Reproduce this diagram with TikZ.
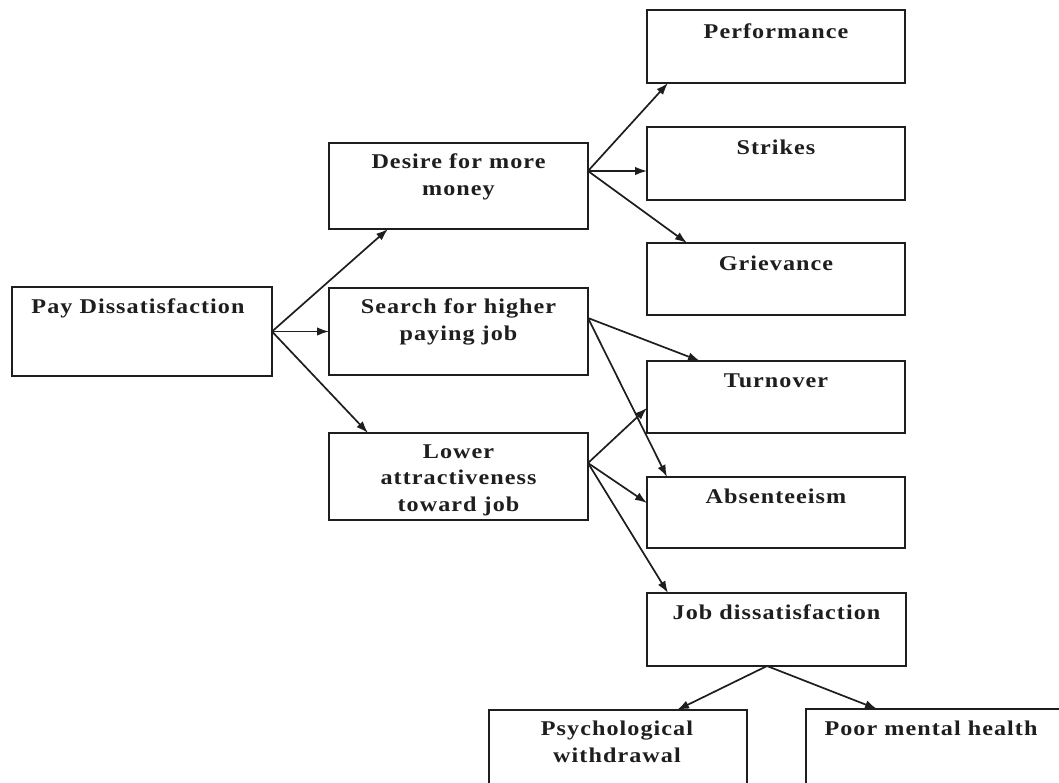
\documentclass[tikz,border=0pt]{standalone}
\usepackage{fontspec}
\newfontfamily\labfont{Liberation Serif}[FakeStretch=1.15,LetterSpace=5]
\usetikzlibrary{arrows.meta}
\definecolor{ink}{HTML}{1E1E1E}
\begin{document}
\begin{tikzpicture}[x=1pt,y=-1pt,
  box/.style={draw=ink,line width=2pt,rectangle,inner sep=0pt,outer sep=0pt,anchor=north west,fill=white},
  lab/.style={anchor=north,inner sep=0pt,outer sep=0pt,align=center,text=ink,
    font=\labfont\bfseries\fontsize{21}{26.5}\selectfont},
  conn/.style={draw=ink,line width=1.7pt,-{Latex[length=12pt,width=8.5pt]}}]
\clip (0,0) rectangle (1059,782);
\fill[white] (0,0) rectangle (1059,782);
% boxes
\node[box,minimum width=260pt,minimum height=89pt] (pay) at (12,287) {};
\node[box,minimum width=259pt,minimum height=86pt] (desire) at (329,143) {};
\node[box,minimum width=259pt,minimum height=87pt] (search) at (329,288) {};
\node[box,minimum width=259pt,minimum height=87pt] (lower) at (329,433) {};
\node[box,minimum width=258pt,minimum height=73pt] (perf) at (647,10) {};
\node[box,minimum width=258pt,minimum height=73pt] (strikes) at (647,127) {};
\node[box,minimum width=258pt,minimum height=72pt] (griev) at (647,243) {};
\node[box,minimum width=258pt,minimum height=72pt] (turn) at (647,361) {};
\node[box,minimum width=258pt,minimum height=71pt] (absent) at (647,477) {};
\node[box,minimum width=259pt,minimum height=73pt] (job) at (647,593) {};
\node[box,minimum width=258pt,minimum height=100pt] (psych) at (489,710) {};
\node[box,minimum width=270pt,minimum height=100pt] (poor) at (806,709) {};
% labels
\node[lab] (tpay) at ([yshift=-10.5pt,xshift=-4pt]pay.north) {\rule{0pt}{16pt}Pay Dissatisfaction};
\node[lab] (tdesire) at ([yshift=-9.5pt]desire.north) {\rule{0pt}{16pt}Desire for more\\money};
\node[lab] (tsearch) at ([yshift=-9.5pt]search.north) {\rule{0pt}{16pt}Search for higher\\paying job};
\node[lab] (tlower) at ([yshift=-9pt]lower.north) {\rule{0pt}{16pt}Lower\\attractiveness\\toward job};
\node[lab] (tperf) at ([yshift=-12pt]perf.north) {\rule{0pt}{16pt}Performance};
\node[lab] (tstrikes) at ([yshift=-11pt]strikes.north) {\rule{0pt}{16pt}Strikes};
\node[lab] (tgriev) at ([yshift=-11pt]griev.north) {\rule{0pt}{16pt}Grievance};
\node[lab] (tturn) at ([yshift=-10.5pt]turn.north) {\rule{0pt}{16pt}Turnover};
\node[lab] (tabsent) at ([yshift=-10.5pt]absent.north) {\rule{0pt}{16pt}Absenteeism};
\node[lab] (tjob) at ([yshift=-10pt]job.north) {\rule{0pt}{16pt}Job dissatisfaction};
\node[lab] (tpsych) at ([yshift=-9.5pt,xshift=-1pt]psych.north) {\rule{0pt}{16pt}Psychological\\withdrawal};
\node[lab] (tpoor) at ([yshift=-10pt,xshift=-10pt]poor.north) {\rule{0pt}{16pt}Poor mental health};
% connector end points
\coordinate (payout) at (pay.east);
\coordinate (desout) at ([yshift=15pt]desire.east);
\coordinate (srchout) at ([yshift=13.5pt]search.east);
\coordinate (lowout) at ([yshift=13.5pt]lower.east);
\coordinate (jobout) at ([xshift=-9.5pt]job.south);
% connectors
\draw[conn] (payout) -- ([xshift=59pt]desire.south west);
\draw[conn] (payout) -- (payout -| search.west);
\draw[conn] (payout) -- ([xshift=39pt]lower.north west);
\draw[conn] (desout) -- ([xshift=21pt]perf.south west);
\draw[conn] (desout) -- (desout -| strikes.west);
\draw[conn] (desout) -- ([xshift=40pt]griev.north west);
\draw[conn] (srchout) -- ([xshift=53pt]turn.north west);
\draw[conn] (srchout) -- ([xshift=20pt]absent.north west);
\draw[conn] (lowout) -- ([yshift=-47pt]turn.north west);
\draw[conn] (lowout) -- ([yshift=-26pt]absent.north west);
\draw[conn] (lowout) -- ([xshift=21pt]job.north west);
\draw[conn] (jobout) -- ([xshift=188pt]psych.north west);
\draw[conn] (jobout) -- ([xshift=71pt]poor.north west);
\end{tikzpicture}
\end{document}
